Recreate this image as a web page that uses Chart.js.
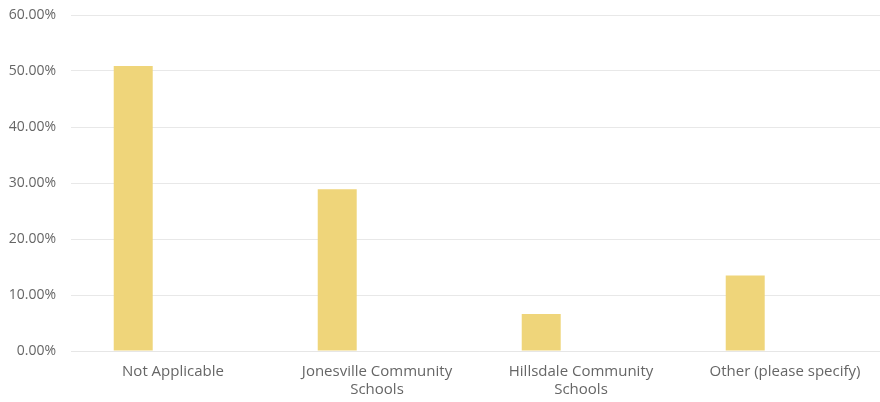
<!DOCTYPE html>
<html>
<head>
<meta charset="utf-8">
<style>
  html, body { margin: 0; padding: 0; background: #fff; overflow: hidden; }
  /* a few px wider than the window: the plot runs a little past the right edge */
  #wrap { width: 887px; height: 402px; }
</style>
<script src="https://cdn.jsdelivr.net/npm/chart.js@4.4.0/dist/chart.umd.min.js"></script>
</head>
<body>
<div id="wrap"><canvas id="myChart"></canvas></div>
<script>
// data
const categories = [
  'Not Applicable',
  ['Jonesville Community', 'Schools'],
  ['Hillsdale Community', 'Schools'],
  'Other (please specify)'
];
const responses = [50.9, 28.9, 6.6, 13.5];
const yTicks = [0, 10, 20, 30, 40, 50, 60];

const data = {
  labels: categories,
  datasets: [{
    label: 'Responses',
    backgroundColor: '#efd57a',
    data: responses
  }, {
    // empty slot, the bars sit on the left half of each category
    label: '',
    backgroundColor: 'rgba(0,0,0,0)',
    data: []
  }]
};

const config = {
  type: 'bar',
  data: data,
  options: {
    responsive: true,
    maintainAspectRatio: false,
    animation: false,
    layout: { padding: 0 },
    datasets: { bar: { categoryPercentage: 0.78, barPercentage: 0.49 } },
    plugins: { legend: { display: false }, tooltip: { enabled: false } },
    scales: {
      x: {
        afterFit: (axis) => {
          axis.height = 51;
          axis.paddingLeft = 0;
          axis.paddingRight = 0;
        },
        grid: { display: false },
        border: { color: '#e6e6e6', width: 1 },
        ticks: { color: '#666', font: { family: 'Open Sans', size: 15, lineHeight: 1.2 }, maxRotation: 0, padding: 4 }
      },
      y: {
        min: yTicks[0],
        max: yTicks[yTicks.length - 1],
        afterBuildTicks: (axis) => { axis.ticks = yTicks.map(v => ({ value: v })); },
        afterFit: (axis) => {
          axis.width = 71;
          axis.paddingTop = 15;
          axis.paddingBottom = 0;
        },
        grid: { color: '#e8e8e8', drawTicks: false },
        border: { display: false },
        ticks: {
          color: '#666',
          padding: 15,
          font: { family: 'Open Sans', size: 14 },
          callback: (v) => v.toFixed(2) + '%'
        }
      }
    }
  }
};

var myChart = new Chart(document.getElementById('myChart'), config);
</script>
</body>
</html>
